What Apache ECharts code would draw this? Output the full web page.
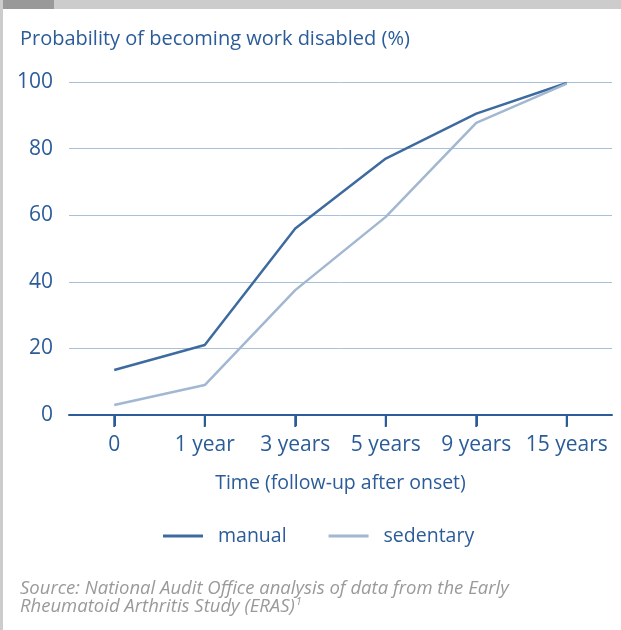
<!DOCTYPE html>
<html><head><meta charset="utf-8">
<script src="https://cdn.jsdelivr.net/npm/echarts@6/dist/echarts.min.js"></script>
<style>html,body{margin:0;padding:0;background:#fff}#c{width:621px;height:630px}</style>
</head><body><div id="c"></div>
<script>
const categories = ['0', '1 year', '3 years', '5 years', '9 years', '15 years'];
const manual = [13.5, 21, 56, 77, 90.5, 99.7];
const sedentary = [3, 9, 37.5, 59.5, 87.7, 99.5];
const yTicks = [0, 20, 40, 60, 80, 100];

const FONT = 'Open Sans';
const TXT = '#2b5c99';
const chart = echarts.init(document.getElementById('c'), null, {renderer: 'canvas'});
chart.setOption({
  backgroundColor: '#ffffff',
  animation: false,
  textStyle: {fontFamily: FONT},
  graphic: [
    {type: 'rect', shape: {x: 0, y: 0, width: 621, height: 9}, style: {fill: '#cccccc'}},
    {type: 'rect', shape: {x: 0, y: 0, width: 54, height: 9}, style: {fill: '#999999'}},
    {type: 'rect', shape: {x: 0, y: 0, width: 3, height: 630}, style: {fill: '#cccccc'}},
    {type: 'text', left: 20, top: 29, style: {text: 'Probability of becoming work disabled (%)', fill: TXT, font: '20px ' + FONT}},
    {type: 'text', left: 20, top: 579, style: {
      text: '{a|Source: National Audit Office analysis of data from the Early}\n{a|Rheumatoid Arthritis Study (ERAS)}{s|1}',
      rich: {
        a: {fill: '#9a9a9a', font: 'italic 18.5px ' + FONT, lineHeight: 18},
        s: {fill: '#9a9a9a', font: 'italic 11px ' + FONT, lineHeight: 18, padding: [0, 0, 10, 1]}
      }
    }}
  ],
  grid: {left: 69, right: 9, top: 82, bottom: 215, containLabel: false},
  legend: {
    bottom: 79, left: 158, itemWidth: 40, itemHeight: 3, itemGap: 42,
    icon: 'rect',
    textStyle: {color: TXT, fontSize: 19.5, fontFamily: FONT, padding: [0, 0, 0, 10]},
    data: ['manual', 'sedentary']
  },
  xAxis: {
    type: 'category', data: categories, boundaryGap: true,
    name: 'Time (follow-up after onset)', nameLocation: 'middle', nameGap: 58,
    nameTextStyle: {color: TXT, fontSize: 19.5, fontFamily: FONT},
    axisLine: {show: true, onZero: false, lineStyle: {color: '#2b5c99', width: 2}},
    axisTick: {show: true, alignWithLabel: true, interval: 0, length: 11, lineStyle: {color: '#2b5c99', width: 2}},
    axisLabel: {color: TXT, fontSize: 21, fontFamily: FONT, margin: 20, interval: 0},
    splitLine: {show: false}
  },
  yAxis: {
    type: 'value', min: 0, max: 100, interval: 20,
    axisLine: {show: false}, axisTick: {show: false},
    axisLabel: {color: TXT, fontSize: 21, fontFamily: FONT, margin: 16,
      formatter: v => yTicks.includes(v) ? String(v) : ''},
    splitLine: {lineStyle: {color: '#a9c0da', width: 1}}
  },
  series: [
    {name: 'manual', type: 'line', data: manual, showSymbol: false, symbol: 'none',
     lineStyle: {color: '#3e6b9f', width: 2.5}, itemStyle: {color: '#3e6b9f'}},
    {name: 'sedentary', type: 'line', data: sedentary, showSymbol: false, symbol: 'none',
     lineStyle: {color: '#a2b7d2', width: 2.5}, itemStyle: {color: '#a2b7d2'}},
    {name: 'ticks', type: 'custom', data: categories.map((c, i) => [i, 0]), clip: false, silent: true, z: 10,
     encode: {x: 0, y: 1},
     renderItem: function (params, api) {
       const p = api.coord([api.value(0), api.value(1)]);
       return {type: 'line', shape: {x1: p[0], y1: p[1], x2: p[0], y2: p[1] + 12},
               style: {stroke: '#2b5c99', lineWidth: 2}};
     }}
  ]
});
</script></body></html>
